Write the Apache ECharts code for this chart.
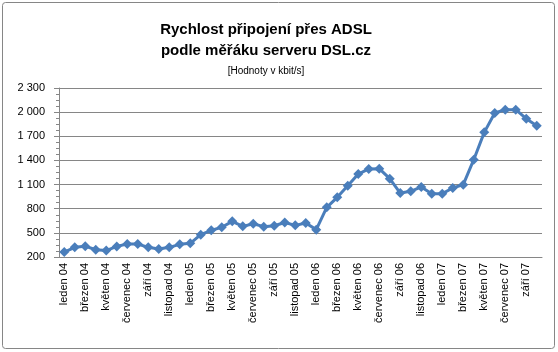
<!DOCTYPE html>
<html><head><meta charset="utf-8">
<script src="https://cdn.jsdelivr.net/npm/echarts@6/dist/echarts.min.js"></script>
<style>html,body{margin:0;padding:0;background:#fff}#c{width:558px;height:352px}</style>
</head><body><div id="c"></div>
<script>
const months = ["leden","únor","březen","duben","květen","červen","červenec","srpen","září","říjen","listopad","prosinec"];
const years = ["04","05","06","07"];
const categories = [];
for (const y of years) for (const m of months) categories.push(m + " " + y);
categories.length = 46; // leden 04 .. říjen 07
const speed = [262,320,335,290,280,332,361,361,320,300,320,357,370,478,531,569,643,581,614,577,589,628,593,622,540,817,941,1086,1231,1294,1298,1173,995,1016,1070,987,987,1057,1099,1409,1749,1989,2031,2031,1919,1832];
const titleLines = ["Rychlost připojení přes ADSL","podle měřáku serveru DSL.cz"];
const subtitle = "[Hodnoty v kbit/s]";

const chart = echarts.init(document.getElementById('c'));
chart.setOption({
  animation:false,
  backgroundColor:'#fff',
  graphic:[{type:'rect',shape:{x:2.5,y:2.5,width:552,height:346,r:3},style:{fill:'none',stroke:'#868686',lineWidth:1}}],
  title:[{text:titleLines.join('\n'),left:261,textAlign:'center',top:14,textStyle:{fontFamily:'Liberation Sans',fontSize:15,fontWeight:'bold',color:'#000',lineHeight:21}},
         {text:subtitle,left:261,textAlign:'center',top:61,textStyle:{fontFamily:'Liberation Sans',fontSize:10,fontWeight:'normal',color:'#000'}}],
  grid:{left:59,right:16,top:88,bottom:95},
  xAxis:{type:'category',data:categories,boundaryGap:true,
    axisLine:{lineStyle:{color:'#868686'}},
    axisTick:{interval:1,length:5,lineStyle:{color:'#868686'}},
    axisLabel:{interval:1,rotate:90,color:'#000',fontFamily:'Liberation Sans',fontSize:11,margin:6}},
  yAxis:{type:'value',min:200,max:2300,interval:300,
    axisLine:{show:true,lineStyle:{color:'#868686'}},
    axisTick:{show:true,length:5,lineStyle:{color:'#868686'}},
    minorTick:{show:true,splitNumber:4,length:3,lineStyle:{color:'#868686'}},
    splitLine:{lineStyle:{color:'#868686'}},
    axisLabel:{color:'#000',fontFamily:'Liberation Sans',fontSize:11,margin:14,
      formatter:v=>String(v).replace(/\B(?=(\d{3})+(?!\d))/g,' ')}},
  series:[{type:'line',data:speed,symbol:'diamond',symbolSize:10,showAllSymbol:true,
    lineStyle:{color:'#4a7ebb',width:3},itemStyle:{color:'#4a7ebb'}}]
});
</script></body></html>
